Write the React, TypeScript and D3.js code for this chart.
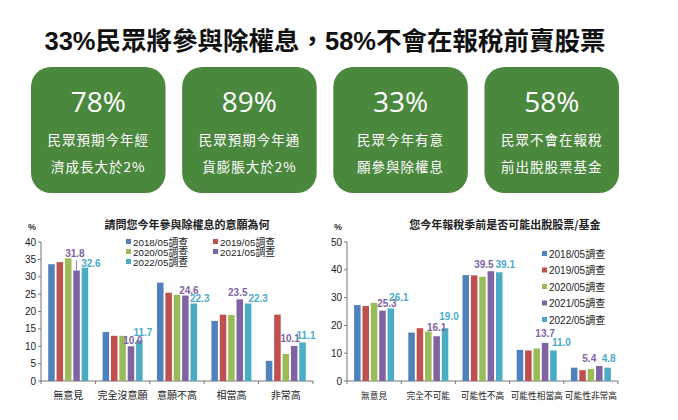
import React from "react";
import * as d3 from "d3";

const seriesNames = ["2018/05調查", "2019/05調查", "2020/05調查", "2021/05調查", "2022/05調查"];
const seriesColors = ["#4F81BD", "#C0504D", "#9BBB59", "#8064A2", "#4BACC6"];

const cards = [
  { big: "78%", l1: "民眾預期今年經", l2: "濟成長大於2%" },
  { big: "89%", l1: "民眾預期今年通", l2: "貨膨脹大於2%" },
  { big: "33%", l1: "民眾今年有意", l2: "願參與除權息" },
  { big: "58%", l1: "民眾不會在報稅", l2: "前出脫股票基金" },
];

const leftCategories = ["無意見", "完全沒意願", "意願不高", "相當高", "非常高"];
const left2018 = [33.6, 14.1, 28.3, 17.3, 5.8];
const left2019 = [34.2, 13.0, 25.4, 19.1, 19.1];
const left2020 = [35.3, 13.0, 24.8, 19.0, 7.8];
const left2021 = [31.8, 10.0, 24.6, 23.5, 10.1];
const left2022 = [32.6, 11.7, 22.3, 22.3, 11.1];
const leftTicks = [0, 5, 10, 15, 20, 25, 30, 35, 40];

const rightCategories = ["無意見", "完全不可能", "可能性不高", "可能性相當高", "可能性非常高"];
const right2018 = [27.3, 17.4, 38.1, 11.2, 4.8];
const right2019 = [27.0, 19.0, 38.0, 11.0, 3.9];
const right2020 = [28.1, 17.8, 37.5, 11.7, 4.3];
const right2021 = [25.3, 16.1, 39.5, 13.7, 5.4];
const right2022 = [26.1, 19.0, 39.1, 11.0, 4.8];
const rightTicks = [0, 10, 20, 30, 40, 50];

const CJK = "'Noto Sans CJK TC', 'Noto Sans', sans-serif";
const LAT = "'Liberation Sans', Arial, sans-serif";
const MIX = "'Liberation Sans', 'Noto Sans CJK TC', sans-serif";

function BarChart(props: {
  title: string; titleX: number; categories: string[]; series: number[][];
  ticks: number[]; max: number; x0: number; x1: number; y0: number; y1: number;
  legendMode: "grid" | "column"; labelDx: number[][]; labelDy: number[][];
  catFont: number; leader: boolean;
}) {
  const { categories, series, ticks, max, x0, x1, y0, y1 } = props;
  const x = d3.scaleBand<string>().domain(categories).range([x0, x1]);
  const inner = d3.scaleBand<number>().domain(d3.range(5)).range([0, 40]).paddingInner(0.22).paddingOuter(0);
  const y = d3.scaleLinear().domain([0, max]).range([y0, y1]);
  const off = (x.bandwidth() - 40) / 2;
  const barCx = (s: number, i: number) => x(categories[i])! + off + inner(s)! + inner.bandwidth() / 2;
  return (
    <g>
      <text x={props.titleX} y={229} textAnchor="middle" fontFamily={CJK} fontSize={11} fontWeight={700} fill="#222">{props.title}</text>
      <text x={x0 - 9} y={230} textAnchor="middle" fontFamily={LAT} fontSize={9} fontWeight={700} fill="#333">%</text>
      <line x1={x0} x2={x0} y1={y(max)} y2={y0} stroke="#777" />
      <line x1={x0} x2={x1} y1={y0} y2={y0} stroke="#777" />
      {ticks.map((t) => (
        <g key={t}>
          <line x1={x0 - 3} x2={x0} y1={y(t)} y2={y(t)} stroke="#777" />
          <text x={x0 - 5} y={y(t) + 3.5} textAnchor="end" fontFamily={LAT} fontSize={10} fill="#222">{t}</text>
        </g>
      ))}
      {categories.map((c) => (
        <g key={c}>
          <line x1={x(c)!} x2={x(c)!} y1={y0} y2={y0 + 3} stroke="#777" />
          <text x={x(c)! + x.bandwidth() / 2} y={y0 + 18} textAnchor="middle" fontFamily={CJK} fontSize={props.catFont} fill="#222">{c}</text>
        </g>
      ))}
      <line x1={x1} x2={x1} y1={y0} y2={y0 + 3} stroke="#777" />
      {series.map((vals, s) => vals.map((v, i) => (
        <rect key={s + "-" + i} x={x(categories[i])! + off + inner(s)!} y={y(v)} width={inner.bandwidth()} height={y0 - y(v)} fill={seriesColors[s]} />
      )))}
      {props.leader && (
        <line x1={barCx(3, 0)} x2={barCx(3, 0)} y1={y(series[3][0]) + props.labelDy[0][0] + 1} y2={y(series[3][0])} stroke="#8064A2" strokeWidth={0.8} />
      )}
      {[3, 4].map((s) => series[s].map((v, i) => (
        <text key={"l" + s + i} x={barCx(s, i) + props.labelDx[s - 3][i]} y={y(v) - 2 + props.labelDy[s - 3][i]} textAnchor="middle" fontFamily={LAT} fontSize={10} fontWeight={700} fill={seriesColors[s]}>{v.toFixed(1)}</text>
      )))}
      {props.legendMode === "grid"
        ? seriesNames.map((n, i) => {
            const lx = i % 2 === 0 ? 126 : 213;
            const ly = 242 + Math.floor(i / 2) * 10;
            return (
              <g key={n}>
                <rect x={lx} y={ly - 3} width={5} height={5} fill={seriesColors[i]} />
                <text x={lx + 7} y={ly + 3.5} fontFamily={MIX} fontSize={9.8} fill="#222">{n}</text>
              </g>
            );
          })
        : seriesNames.map((n, i) => {
            const lx = 542;
            const ly = 254 + i * 16.5;
            return (
              <g key={n}>
                <rect x={lx} y={ly - 3} width={5} height={5} fill={seriesColors[i]} />
                <text x={lx + 7} y={ly + 3.5} fontFamily={MIX} fontSize={10} fill="#222">{n}</text>
              </g>
            );
          })}
    </g>
  );
}

export default function App() {
  const cardX = d3.scaleBand<number>().domain(d3.range(4)).range([31, 619]).paddingInner(0.11);
  return (
    <svg width={678} height={420} style={{ position: "absolute", left: 0, top: 0, background: "#fff" }}>
      <rect width={678} height={420} fill="#fff" />
      <text x={325} y={50} textAnchor="middle" fontFamily={MIX} fontSize={25.5} fontWeight={700} fill="#111">33%民眾將參與除權息，58%不會在報稅前賣股票</text>
      {cards.map((c, i) => {
        const cx = cardX(i)! + cardX.bandwidth() / 2;
        return (
          <g key={i}>
            <rect x={cardX(i)} y={67} width={cardX.bandwidth()} height={126} rx={20} fill="#4A883D" />
            <text x={cx} y={112} textAnchor="middle" fontFamily="'Open Sans', sans-serif" fontSize={28} fill="#fff">{c.big}</text>
            <text x={cx} y={145} textAnchor="middle" fontFamily={CJK} fontSize={13.5} letterSpacing={1} fill="#fff">{c.l1}</text>
            <text x={cx} y={172} textAnchor="middle" fontFamily={CJK} fontSize={13.5} letterSpacing={1} fill="#fff">{c.l2}</text>
          </g>
        );
      })}
      <BarChart title="請問您今年參與除權息的意願為何" titleX={187} categories={leftCategories}
        series={[left2018, left2019, left2020, left2021, left2022]} ticks={leftTicks} max={40}
        x0={41} x1={313} y0={381} y1={242} legendMode="grid" catFont={10} leader={true}
        labelDx={[[-1.6, 2, 3.6, -2, -4], [6, 3.6, 6, 10, 3.5]]} labelDy={[[-11.5, 0, 0, -1, -2], [1, -2, 0, 0, -1]]} />
      <BarChart title="您今年報稅季前是否可能出脫股票/基金" titleX={505} categories={rightCategories}
        series={[right2018, right2019, right2020, right2021, right2022]} ticks={rightTicks} max={50}
        x0={347} x1={618} y0={381} y1={242} legendMode="column" catFont={8.7} leader={false}
        labelDx={[[4.5, 0, -7, 0, -10], [8, 4, 6, 8, 1]]} labelDy={[[-1.5, -3.5, -1, -4, -2], [-5, -6, -2, -2, -4]]} />
    </svg>
  );
}
